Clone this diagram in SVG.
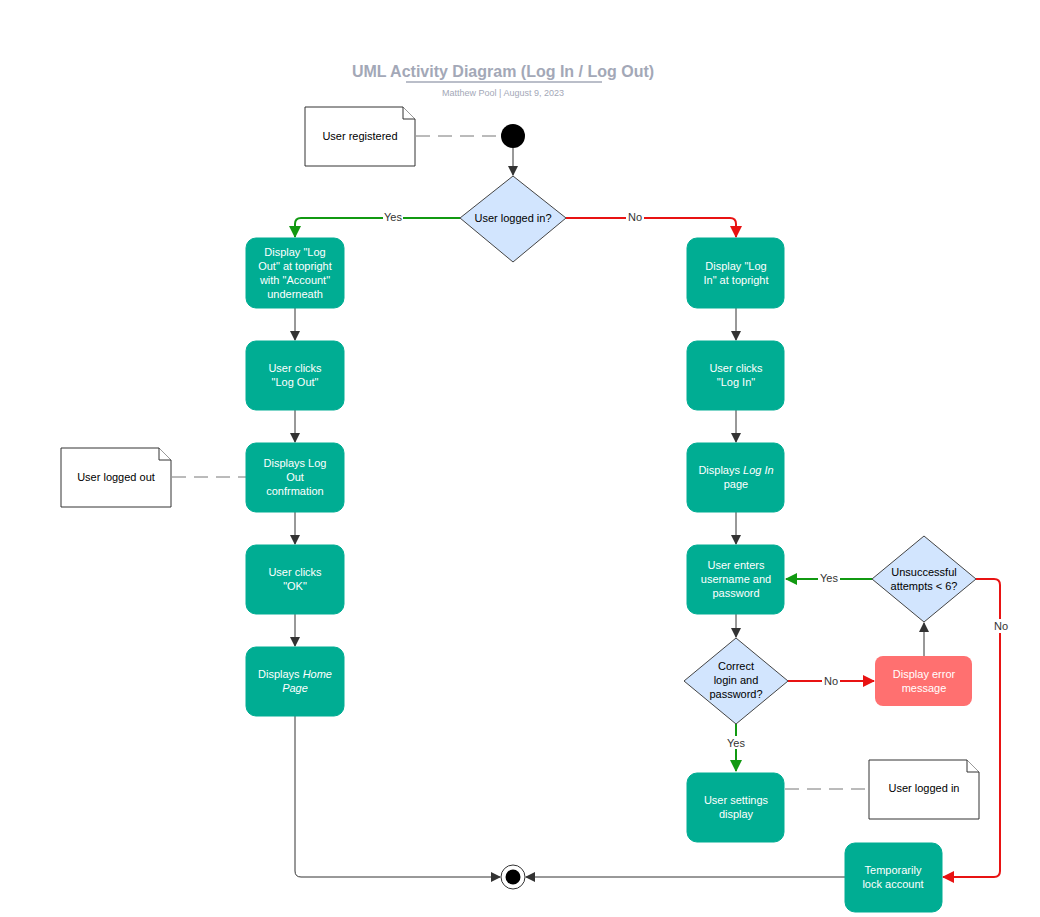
<svg xmlns="http://www.w3.org/2000/svg" width="1040" height="917" viewBox="0 0 1040 917">
<style>
text{font-family:"Liberation Sans",Arial,sans-serif}
.act{fill:#00ad93;stroke:#00ad93}
.t{fill:#fff;font-size:11px;text-anchor:middle}
.d{fill:#d2e5fe;stroke:#444;stroke-width:1}
.dt{fill:#000;font-size:11px;text-anchor:middle}
.note{fill:#fff;stroke:#333;stroke-width:1}
.nt{fill:#000;font-size:11px;text-anchor:middle}
.c{fill:none;stroke:#333;stroke-width:1}
.g{fill:none;stroke:#119911;stroke-width:2}
.r{fill:none;stroke:#e81313;stroke-width:2}
.dash{fill:none;stroke:#777;stroke-width:1;stroke-dasharray:14,8}
.lbl{font-size:11px;text-anchor:middle;fill:#333}
</style>
<defs>
<marker id="ab" markerWidth="10" markerHeight="10" refX="9" refY="5" orient="auto" markerUnits="userSpaceOnUse"><path d="M0,0L10,5L0,10z" fill="#333"/></marker>
<marker id="ag" markerWidth="12" markerHeight="12" refX="11" refY="6" orient="auto" markerUnits="userSpaceOnUse"><path d="M0,0L12,6L0,12z" fill="#119911"/></marker>
<marker id="ar" markerWidth="12" markerHeight="12" refX="11" refY="6" orient="auto" markerUnits="userSpaceOnUse"><path d="M0,0L12,6L0,12z" fill="#e81313"/></marker>
</defs>
<rect width="1040" height="917" fill="#fff"/>
<g id="title">
<text x="503" y="77" text-anchor="middle" font-size="16" font-weight="bold" fill="#a3a8b7">UML Activity Diagram (Log In / Log Out)</text>
<line x1="406" y1="82" x2="602" y2="82" stroke="#a3a8b7" stroke-width="1.5"/>
<text x="503" y="96" text-anchor="middle" font-size="9" fill="#a3a8b7">Matthew Pool  |  August 9, 2023</text>
</g>
<g id="connectors">
<line class="dash" x1="416" y1="136" x2="501" y2="136"/>
<line class="dash" x1="172" y1="477" x2="246" y2="477"/>
<line class="dash" x1="785" y1="789" x2="869" y2="789"/>
<line class="c" x1="513" y1="148" x2="513" y2="175" marker-end="url(#ab)"/>
<path class="g" d="M460,218H301Q295,218 295,224V237" marker-end="url(#ag)"/>
<path class="r" d="M566,218H730Q736,218 736,224V237" marker-end="url(#ar)"/>
<line class="c" x1="295" y1="308" x2="295" y2="340" marker-end="url(#ab)"/>
<line class="c" x1="295" y1="410" x2="295" y2="442" marker-end="url(#ab)"/>
<line class="c" x1="295" y1="512" x2="295" y2="544" marker-end="url(#ab)"/>
<line class="c" x1="295" y1="614" x2="295" y2="646" marker-end="url(#ab)"/>
<line class="c" x1="736" y1="308" x2="736" y2="340" marker-end="url(#ab)"/>
<line class="c" x1="736" y1="410" x2="736" y2="442" marker-end="url(#ab)"/>
<line class="c" x1="736" y1="512" x2="736" y2="544" marker-end="url(#ab)"/>
<line class="c" x1="736" y1="614" x2="736" y2="637" marker-end="url(#ab)"/>
<path class="c" d="M295,716V871Q295,877 301,877H500" marker-end="url(#ab)"/>
<line class="c" x1="845" y1="877" x2="526" y2="877" marker-end="url(#ab)"/>
<line class="g" x1="736" y1="724" x2="736" y2="771" marker-end="url(#ag)"/>
<line class="r" x1="788" y1="681" x2="874" y2="681" marker-end="url(#ar)"/>
<line class="c" x1="924" y1="656" x2="924" y2="623" marker-end="url(#ab)"/>
<line class="g" x1="872" y1="579" x2="786" y2="579" marker-end="url(#ag)"/>
<path class="r" d="M976,579H994Q1000,579 1000,585V871Q1000,877 994,877H943" marker-end="url(#ar)"/>
<rect x="383" y="211" width="20" height="13" fill="#fff"/><text class="lbl" x="393" y="221">Yes</text>
<rect x="626" y="211" width="18" height="13" fill="#fff"/><text class="lbl" x="635" y="221">No</text>
<rect x="725" y="736" width="22" height="13" fill="#fff"/><text class="lbl" x="736" y="747">Yes</text>
<rect x="822" y="674" width="18" height="13" fill="#fff"/><text class="lbl" x="831" y="685">No</text>
<rect x="818" y="572" width="22" height="13" fill="#fff"/><text class="lbl" x="829" y="582">Yes</text>
<rect x="991" y="619" width="18" height="14" fill="#fff"/><text class="lbl" x="1001" y="630">No</text>
</g>
<g id="start"><circle cx="513" cy="136" r="12" fill="#000"/></g>
<g id="end"><circle cx="513" cy="877" r="12" fill="#fff" stroke="#333"/><circle cx="513" cy="877" r="7.5" fill="#000"/></g>
<g id="note-registered"><path class="note" d="M305,107H403L415,119V166H305Z"/><path class="note" d="M403,107V119H415"/><text class="nt" x="360" y="140">User registered</text></g>
<g id="note-loggedout"><path class="note" d="M61,448H159L171,460V507H61Z"/><path class="note" d="M159,448V460H171"/><text class="nt" x="116" y="481">User logged out</text></g>
<g id="note-loggedin"><path class="note" d="M869,760H967L979,772V819H869Z"/><path class="note" d="M967,760V772H979"/><text class="nt" x="924" y="792">User logged in</text></g>
<g id="dec-loggedin"><path class="d" d="M513,176L566,218L513,262L460,218Z" stroke-linejoin="round"/><text class="dt" x="513" y="222">User logged in?</text></g>
<g id="dec-correct"><path class="d" d="M736,638L788,681L736,724L684,681Z" stroke-linejoin="round"/><text class="dt" x="736" y="670">Correct</text><text class="dt" x="736" y="684">login and</text><text class="dt" x="736" y="698">password?</text></g>
<g id="dec-attempts"><path class="d" d="M924,536L976,579L924,622L872,579Z" stroke-linejoin="round"/><text class="dt" x="924" y="576">Unsuccessful</text><text class="dt" x="924" y="590">attempts &lt; 6?</text></g>
<g id="a-displaylogout"><rect class="act" x="246" y="238" width="98" height="70" rx="10"/><text class="t" x="295" y="256">Display "Log</text><text class="t" x="295" y="270">Out" at topright</text><text class="t" x="295" y="284">with "Account"</text><text class="t" x="295" y="298">underneath</text></g>
<g id="a-clicklogout"><rect class="act" x="246" y="341" width="98" height="69" rx="10"/><text class="t" x="295" y="372">User clicks</text><text class="t" x="295" y="386">"Log Out"</text></g>
<g id="a-logoutconf"><rect class="act" x="246" y="443" width="98" height="69" rx="10"/><text class="t" x="295" y="467">Displays Log</text><text class="t" x="295" y="481">Out</text><text class="t" x="295" y="495">confrmation</text></g>
<g id="a-clickok"><rect class="act" x="246" y="545" width="98" height="69" rx="10"/><text class="t" x="295" y="576">User clicks</text><text class="t" x="295" y="590">"OK"</text></g>
<g id="a-homepage"><rect class="act" x="246" y="647" width="98" height="69" rx="10"/><text class="t" x="295" y="678">Displays <tspan font-style="italic">Home</tspan></text><text class="t" x="295" y="692" font-style="italic">Page</text></g>
<g id="a-displaylogin"><rect class="act" x="687" y="238" width="97" height="70" rx="10"/><text class="t" x="736" y="270">Display "Log</text><text class="t" x="736" y="284">In" at topright</text></g>
<g id="a-clicklogin"><rect class="act" x="687" y="341" width="97" height="69" rx="10"/><text class="t" x="736" y="372">User clicks</text><text class="t" x="736" y="386">"Log In"</text></g>
<g id="a-loginpage"><rect class="act" x="687" y="443" width="97" height="69" rx="10"/><text class="t" x="736" y="474">Displays <tspan font-style="italic">Log In</tspan></text><text class="t" x="736" y="488">page</text></g>
<g id="a-enter"><rect class="act" x="687" y="545" width="97" height="69" rx="10"/><text class="t" x="736" y="569">User enters</text><text class="t" x="736" y="583">username and</text><text class="t" x="736" y="597">password</text></g>
<g id="a-error"><rect x="875" y="656" width="97" height="50" rx="8" fill="#ff7070"/><text class="t" x="924" y="678">Display error</text><text class="t" x="924" y="692">message</text></g>
<g id="a-settings"><rect class="act" x="687" y="773" width="97" height="69" rx="10"/><text class="t" x="736" y="804">User settings</text><text class="t" x="736" y="818">display</text></g>
<g id="a-lock"><rect class="act" x="845" y="843" width="97" height="69" rx="10"/><text class="t" x="893" y="874">Temporarily</text><text class="t" x="893" y="888">lock account</text></g>
</svg>
